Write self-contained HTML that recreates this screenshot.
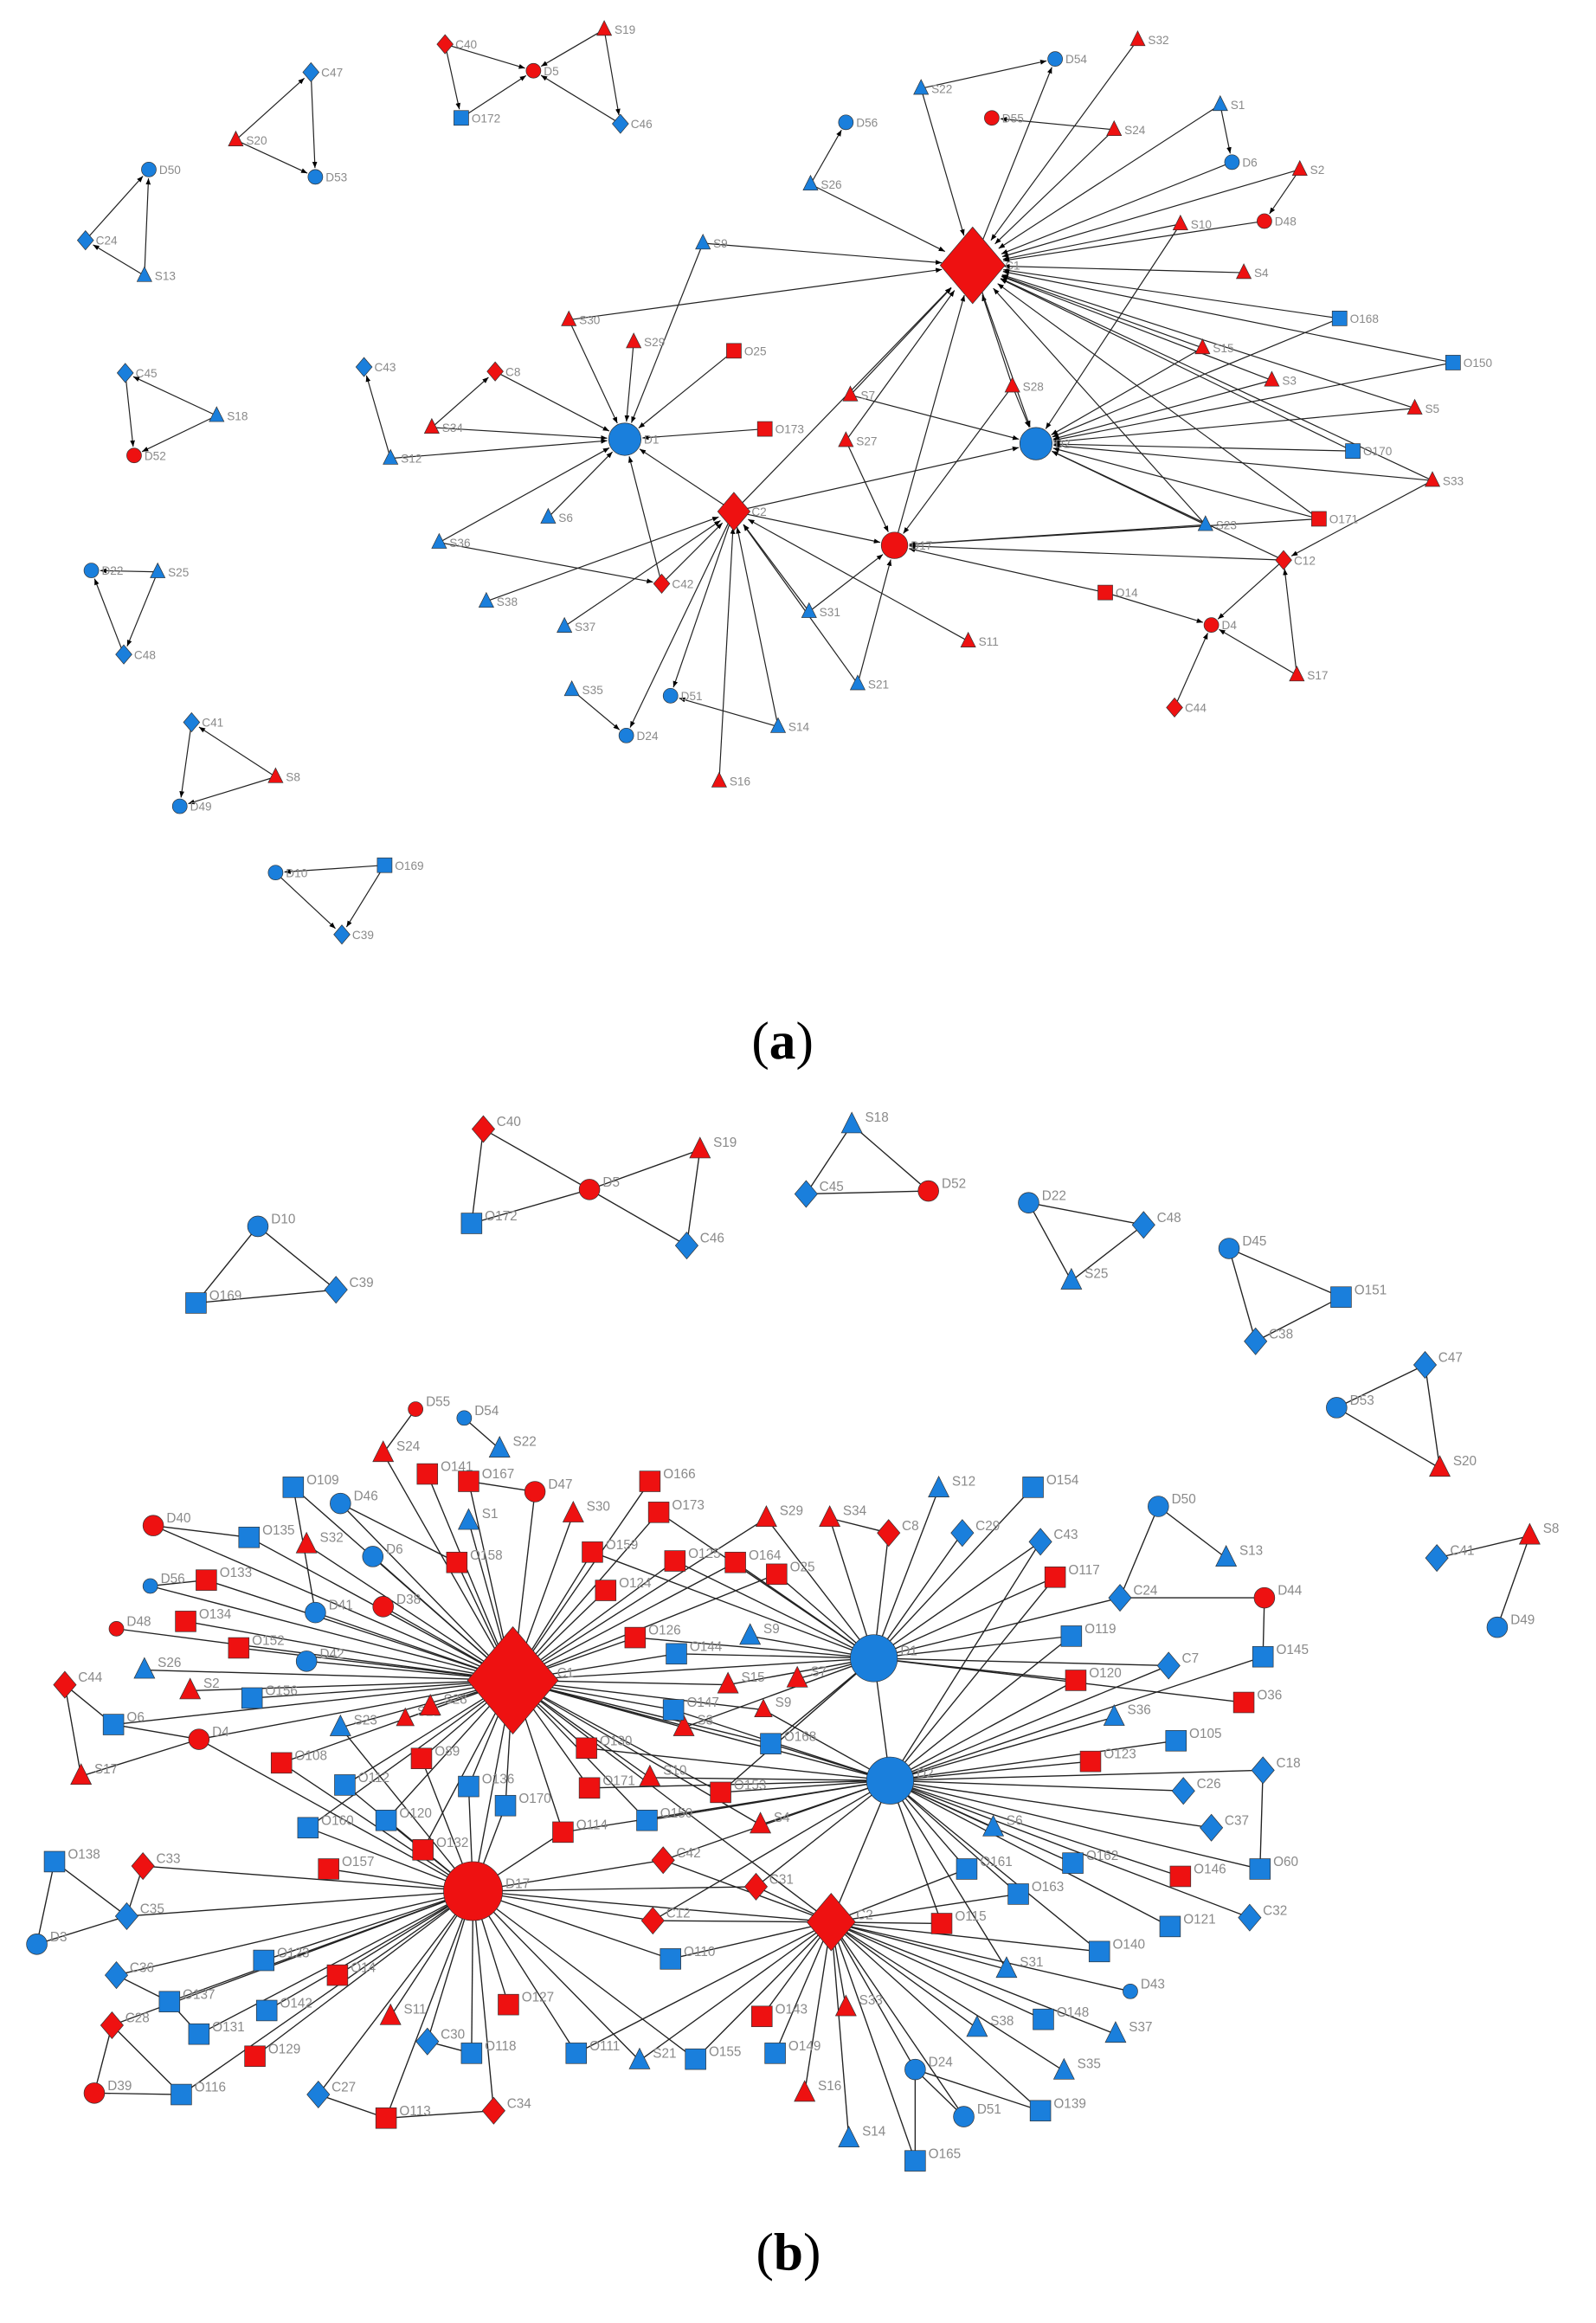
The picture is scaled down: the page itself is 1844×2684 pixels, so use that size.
<!DOCTYPE html>
<html><head><meta charset="utf-8"><style>
html,body{margin:0;padding:0;background:#fff;}
svg{display:block}
text{font-family:"Liberation Sans",sans-serif;fill:#8a8a8a}
.cap{font-family:"Liberation Serif",serif;fill:#000;font-size:36px}
</style></head><body>
<svg id="s" xmlns="http://www.w3.org/2000/svg" width="1844" height="2684" viewBox="0 0 1083 1576" preserveAspectRatio="none">
<defs><marker id="ar" viewBox="0 0 10 10" refX="10" refY="5" markerWidth="6" markerHeight="6" orient="auto"><path d="M0,1 L10,5 L0,9 z" fill="#000"/></marker></defs>
<g id="E"></g><g id="N"></g>
<text class="cap" x="531" y="718" text-anchor="middle">(<tspan font-weight="bold">a</tspan>)</text>
<text class="cap" x="535" y="1540" text-anchor="middle">(<tspan font-weight="bold">b</tspan>)</text>
</svg>
<script>
var R="#ee1111",B="#1a7fdc";
// [name,x,y,type,color,size]
var A=[
["C47",211,49,"d",B],["S20",160,95,"t",R],["D53",214,120,"c",B],
["C40",302,30,"d",R],["D5",362,48,"c",R],["S19",410,20,"t",R],["O172",313,80,"s",B],["C46",421,84,"d",B],
["D50",101,115,"c",B],["C24",58,163,"d",B],["S13",98,187,"t",B],
["C45",85,253,"d",B],["S18",147,282,"t",B],["D52",91,309,"c",R],
["D22",62,387,"c",B],["S25",107,388,"t",B],["C48",84,444,"d",B],
["C41",130,490,"d",B],["S8",187,527,"t",R],["D49",122,547,"c",B],
["D10",187,592,"c",B],["O169",261,587,"s",B],["C39",232,634,"d",B],
["C1",660,180,"d",R,20],["D1",424,298,"c",B,11],["D2",703,301,"c",B,11],["C2",498,347,"d",R,10],["D17",607,370,"c",R,9],
["C12",871,380,"d",R],["D4",822,424,"c",R],["S17",880,458,"t",R],["C44",797,480,"d",R],["O14",750,402,"s",R],
["S22",625,60,"t",B],["D54",716,40,"c",B],["S32",772,27,"t",R],["D56",574,83,"c",B],["D55",673,80,"c",R],["S24",756,88,"t",R],
["S1",828,71,"t",B],["D6",836,110,"c",B],["S26",550,125,"t",B],["S2",882,115,"t",R],["D48",858,150,"c",R],["S10",801,152,"t",R],
["S9",477,165,"t",B],["S4",844,185,"t",R],["O168",909,216,"s",B],["S30",386,217,"t",R],["S29",430,232,"t",R],["O25",498,238,"s",R],
["C8",336,252,"d",R],["C43",247,249,"d",B],["S15",816,236,"t",R],["O150",986,246,"s",B],["S3",863,258,"t",R],["S28",687,262,"t",R],
["S7",577,268,"t",R],["S5",960,277,"t",R],["S34",293,290,"t",R],["O173",519,291,"s",R],["S12",265,311,"t",B],["S27",574,299,"t",R],
["O170",918,306,"s",B],["S33",972,326,"t",R],["S6",372,351,"t",B],["O171",895,352,"s",R],["S23",818,356,"t",B],["S36",298,368,"t",B],
["C42",449,396,"d",R],["S38",330,408,"t",B],["S31",549,415,"t",B],["S37",383,425,"t",B],["S11",657,435,"t",R],["S21",582,464,"t",B],
["S35",388,468,"t",B],["D51",455,472,"c",B],["S14",528,493,"t",B],["D24",425,499,"c",B],["S16",488,530,"t",R]];
var AE="S20>C47 S20>D53 C47>D53 C40>D5 S19>D5 O172>D5 C46>D5 S19>C46 C40>O172 S13>D50 S13>C24 C24>D50 S18>C45 C45>D52 S18>D52 S25>D22 C48>D22 S25>C48 S8>C41 C41>D49 S8>D49 O169>D10 D10>C39 O169>C39 "+
"S22>D54 S22>C1 S26>D56 S26>C1 S24>D55 S24>C1 S32>C1 S1>D6 S1>C1 S2>D48 S2>C1 S10>C1 S9>C1 S4>C1 O168>C1 S15>C1 O150>C1 S3>C1 S5>C1 S33>C1 O170>C1 S7>C1 S27>C1 D17>C1 S28>C1 O171>C1 S23>C1 C1>D2 C1>D54 S30>C1 D6>C1 D48>C1 C2>C1 "+
"S9>D1 S30>D1 S29>D1 O25>D1 S34>C8 S34>D1 S12>C43 S12>D1 O173>D1 S6>D1 S36>D1 C2>D1 C42>D1 C8>D1 "+
"O168>D2 O150>D2 S15>D2 S3>D2 O170>D2 O171>D2 S33>D2 S23>D2 C12>D2 S7>D2 S28>D2 C2>D2 S5>D2 S10>D2 "+
"S31>C2 S21>C2 S14>C2 S16>C2 S37>C2 S38>C2 S35>D24 C2>D51 C2>D24 S36>C42 C42>C2 S14>D51 S11>C2 "+
"S28>D17 S27>D17 S21>D17 C12>D17 S23>D17 O14>D17 O14>D4 C2>D17 S31>D17 O171>D17 S17>D4 C44>D4 S33>C12 C12>D4 S17>C12";
var Bn=[
["C40",328,766,"d",R],["D5",400,807,"c",R],["S19",475,780,"t",R],["O172",320,830,"s",B],["C46",466,845,"d",B],
["S18",578,763,"t",B],["C45",547,810,"d",B],["D52",630,808,"c",R],
["D10",175,832,"c",B],["O169",133,884,"s",B],["C39",228,875,"d",B],
["D22",698,816,"c",B],["C48",776,831,"d",B],["S25",727,869,"t",B],
["D45",834,847,"c",B],["O151",910,880,"s",B],["C38",852,910,"d",B],
["C47",967,926,"d",B],["D53",907,955,"c",B],["S20",977,996,"t",R],
["S8",1038,1042,"t",R],["C41",975,1057,"d",B],["D49",1016,1104,"c",B],
["C1",348,1140,"d",R,28],["D1",593,1125,"c",B,16],["D2",604,1208,"c",B,16],["D17",321,1283,"c",R,20],["C2",564,1304,"d",R,15],
["D55",282,956,"c",R,5],["D54",315,962,"c",B,5],["S22",339,983,"t",B],["S24",260,986,"t",R],["O141",290,1000,"s",R],["O167",318,1005,"s",R],
["D47",363,1012,"c",R],["S1",318,1032,"t",B],["S30",389,1027,"t",R],["O166",441,1005,"s",R],["O109",199,1009,"s",B],["D46",231,1020,"c",B],
["D40",104,1035,"c",R],["O135",169,1043,"s",B],["S32",208,1048,"t",R],["D6",253,1056,"c",B],["O158",310,1060,"s",R],["O159",402,1053,"s",R],
["O173",447,1026,"s",R],["O125",458,1059,"s",R],["O164",499,1060,"s",R],["S29",520,1030,"t",R],["O25",527,1068,"s",R],["S34",563,1030,"t",R],
["C8",603,1040,"d",R],["D56",102,1076,"c",B,5],["O133",140,1072,"s",R],["D41",214,1094,"c",B],["D38",260,1090,"c",R],["O124",411,1079,"s",R],
["D48",79,1105,"c",R,5],["O134",126,1100,"s",R],["O152",162,1118,"s",R],["D42",208,1127,"c",B],["O126",431,1111,"s",R],["O144",459,1122,"s",B],
["S9",509,1110,"t",B],["S26",98,1133,"t",B],["S2",129,1147,"t",R],["O156",171,1152,"s",B],["S15",494,1143,"t",R],["S7",541,1139,"t",R],
["C44",44,1143,"d",R],["O6",77,1170,"s",B],["D4",135,1180,"c",R],["S23",231,1172,"t",B],["S21x",275,1166,"t",R,6,"S21"],["S28",292,1158,"t",R],
["O108",191,1196,"s",R],["O89",286,1193,"s",R],["S17",55,1205,"t",R],["S3",464,1172,"t",R],["S9x",518,1160,"t",R,6,"S9"],["O147",457,1160,"s",B],
["O130",398,1186,"s",R],["O168",523,1183,"s",B],["O112",234,1211,"s",B],["O136",318,1212,"s",B],["O170",343,1225,"s",B],["S10",441,1206,"t",R],
["O171",400,1213,"s",R],["O153",489,1216,"s",R],["S4",516,1238,"t",R],["O120",262,1235,"s",B],["O160",209,1240,"s",B],["O150",439,1235,"s",B],
["O114",382,1243,"s",R],["O132",287,1255,"s",R],["O157",223,1268,"s",R],["C42",450,1262,"d",R],["C31",513,1280,"d",R],["C33",97,1266,"d",R],
["O138",37,1263,"s",B],["C35",86,1300,"d",B],["D3",25,1319,"c",B],["C12",443,1303,"d",R],["O123",179,1330,"s",B],["O14",229,1340,"s",R],
["C36",79,1340,"d",B],["O137",115,1358,"s",B],["O142",181,1364,"s",B],["O131",135,1380,"s",B],["O110",455,1329,"s",B],["O127",345,1360,"s",R],
["S11",265,1368,"t",R],["C30",290,1385,"d",B],["O118",320,1393,"s",B],["O111",391,1393,"s",B],["S21",434,1398,"t",B],["O155",472,1397,"s",B],
["O143",517,1368,"s",R],["O149",526,1393,"s",B],["S33",574,1362,"t",R],["C28",76,1374,"d",R],["O129",173,1395,"s",R],["D39",64,1420,"c",R],
["O116",123,1421,"s",B],["C27",216,1421,"d",B],["O113",262,1437,"s",R],["C34",335,1432,"d",R],["S16",546,1420,"t",R],["S14",576,1451,"t",B],
["D24",621,1404,"c",B],["D51",654,1436,"c",B],["O165",621,1466,"s",B],["O139",706,1432,"s",B],["S35",722,1405,"t",B],["O148",708,1370,"s",B],
["S38",663,1376,"t",B],["S37",757,1380,"t",B],["O140",746,1324,"s",B],["D43",767,1351,"c",B,5],["S31",683,1336,"t",B],["O121",794,1307,"s",B],
["C32",848,1301,"d",B],["O115",639,1305,"s",R],["O163",691,1285,"s",B],["O161",656,1268,"s",B],["O162",728,1264,"s",B],["O146",801,1273,"s",R],
["O60",855,1268,"s",B],["C37",822,1240,"d",B],["C18",857,1201,"d",B],["C26",803,1215,"d",B],["O105",798,1181,"s",B],["S6",674,1240,"t",B],
["O123r",740,1195,"s",R,7,"O123"],["S36",756,1165,"t",B],["O36",844,1155,"s",R],["C7",793,1130,"d",B],["O120r",730,1140,"s",R,7,"O120"],["O119",727,1110,"s",B],
["C24",760,1084,"d",B],["D44",858,1084,"c",R],["O145",857,1124,"s",B],["O117",716,1070,"s",R],["S13",832,1057,"t",B],["D50",786,1022,"c",B],
["C43",706,1046,"d",B],["C29",653,1040,"d",B],["S12",637,1010,"t",B],["O154",701,1009,"s",B]];
var BE={
C1:"S24 O141 O167 D47 S1 S30 O166 O109 D46 D40 O135 S32 D6 O158 O159 O173 O125 O164 S29 O25 O133 D41 D38 O124 D48 O134 O152 D42 O126 O144 S26 S2 O156 O6 D4 S23 S21x S28 O108 O89 S15 O147 O130 O112 O136 O170 S10 O171 O120 O160 O132 D2 D1 C2 D17 S3 O168 S9x O153 S4 D56 O150 O114",
D17:"O108 O112 O160 O120 O157 O132 O136 O170 O114 C42 C31 C12 C33 C35 O123 O14 C36 O137 O142 O131 O127 S11 C30 O118 O111 S21 O155 C34 O129 O116 C28 O113 C27 D4 C2 O89 S23 O110",
D1:"S34 C8 C29 S12 C43 O117 C24 O119 O120r C7 O25 O164 S29 O125 S7 S9 O144 O168 S15 O126 D2 O153 O154 O173 O159 S3 O36",
D2:"C43 O117 O119 O120r C7 S36 O123r O105 C26 C18 C37 O146 O162 S6 O161 O163 O115 C31 C42 S4 O153 O150 O168 S10 O171 O130 O114 O121 C32 O140 S31 C2 S9x O60 O145 O147 C12",
C2:"O110 O143 O149 S33 S16 S14 D24 D51 O165 O139 S35 S38 O148 S31 O140 D43 O115 O163 O161 C12 C31 C42 O155 S21 O111 S37"};
var BX="C40>D5 C40>O172 O172>D5 D5>S19 S19>C46 D5>C46 S18>C45 S18>D52 C45>D52 D10>O169 D10>C39 O169>C39 D22>C48 D22>S25 S25>C48 D45>O151 D45>C38 C38>O151 C47>D53 C47>S20 D53>S20 S8>C41 S8>D49 D55>S24 D54>S22 O167>D47 C44>S17 C44>O6 D4>O6 D4>S17 D3>O138 D3>C35 C35>O138 C33>C35 C36>O137 C28>D39 D39>O116 C28>O116 O131>O137 C27>O113 O113>C34 C30>O118 D24>D51 D24>O165 D50>C24 D50>S13 C24>D44 D44>O145 C18>O60 D56>O133 D40>O135 S34>C8 D24>O139 O109>D41 D46>O158";
var NS="http://www.w3.org/2000/svg",E=document.getElementById("E"),N=document.getElementById("N");
function el(t,a,p){var e=document.createElementNS(NS,t);for(var k in a)e.setAttribute(k,a[k]);p.appendChild(e);return e;}
function draw(list,def,fs){var m={};list.forEach(function(n){var s=n[5]||def;m[n[0]]={x:n[1],y:n[2],s:s};var x=n[1],y=n[2],c=n[4],g;
var st={fill:c,stroke:"#333","stroke-width":0.4};
if(n[3]=="c"){st.cx=x;st.cy=y;st.r=s;el("circle",st,N);}
else if(n[3]=="s"){st.x=x-s;st.y=y-s;st.width=2*s;st.height=2*s;el("rect",st,N);}
else if(n[3]=="d"){st.points=[x,y-s*1.3,x+s*1.1,y,x,y+s*1.3,x-s*1.1,y].join(",");el("polygon",st,N);}
else {st.points=[x,y-s*1.2,x+s,y+s*0.8,x-s,y+s*0.8].join(",");el("polygon",st,N);}
var t=el("text",{x:x+s+2,y:y-(fs>8?2:-3),"font-size":fs},N);t.textContent=n[6]||n[0];});return m;}
var ma=draw(A,5,8);
AE.split(" ").forEach(function(p){var q=p.split(">"),a=ma[q[0]],b=ma[q[1]];if(!a||!b)return;var dx=b.x-a.x,dy=b.y-a.y,L=Math.sqrt(dx*dx+dy*dy),r=b.s+1;
el("line",{x1:a.x,y1:a.y,x2:b.x-dx/L*r,y2:b.y-dy/L*r,stroke:"#222","stroke-width":0.7,"marker-end":"url(#ar)"},E);});
var mb=draw(Bn,7,9);
function ln(a,b){a=mb[a];b=mb[b];if(!a||!b)return;el("line",{x1:a.x,y1:a.y,x2:b.x,y2:b.y,stroke:"#222","stroke-width":0.8},E);}
for(var h in BE)BE[h].split(" ").forEach(function(n){ln(h,n);});
BX.split(" ").forEach(function(p){var q=p.split(">");ln(q[0],q[1]);});
</script>
</body></html>
